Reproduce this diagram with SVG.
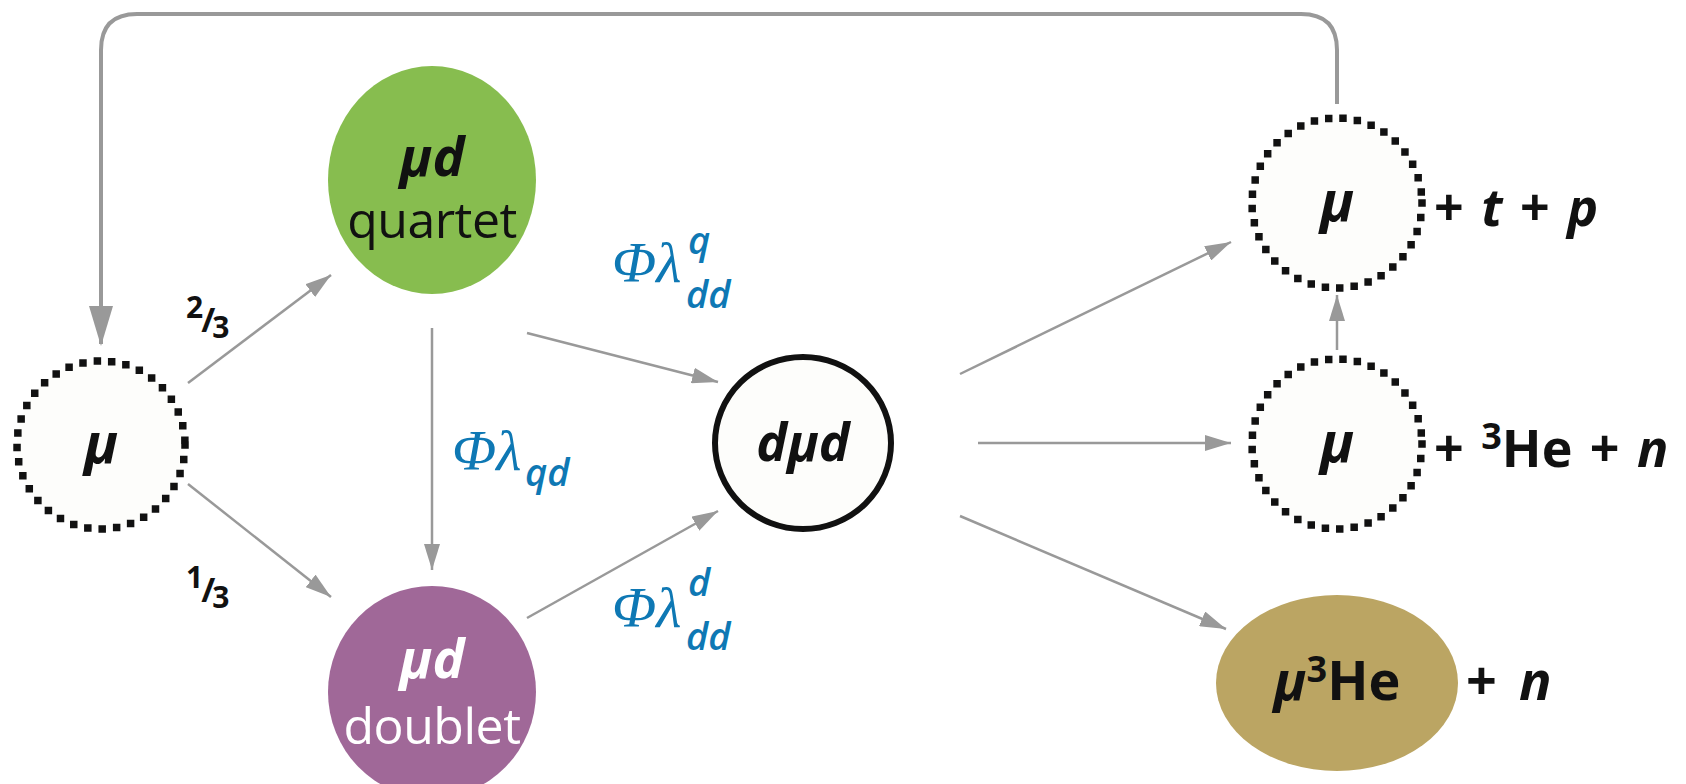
<svg xmlns="http://www.w3.org/2000/svg" width="1686" height="784" viewBox="0 0 1686 784">
<defs>
<style>
.bg{fill:#ffffff}
.dot{fill:#fdfdfb;stroke:#111;stroke-width:7.5;stroke-dasharray:0 14.5;stroke-linecap:square}
.ln{stroke:#999;stroke-width:2.5;fill:none}
.loop{stroke:#999;stroke-width:4;fill:none}
.b{font-family:'Open Sans','Liberation Sans',sans-serif;font-weight:700;fill:#111}
.bi{font-family:'Open Sans','Liberation Sans',sans-serif;font-weight:700;font-style:italic;fill:#111}
.r{font-family:'Open Sans','Liberation Sans',sans-serif;font-weight:400}
.phi{font-family:'Liberation Serif','DejaVu Serif',serif;font-style:italic;fill:#0e78b4}
.sub{font-family:'Open Sans','Liberation Sans',sans-serif;font-style:italic;font-weight:600;fill:#0e78b4}
</style>
<marker id="ah" markerUnits="userSpaceOnUse" markerWidth="28" markerHeight="16" refX="26" refY="8" orient="auto">
<path d="M0,0 L26,8 L0,16 Z" fill="#999"/>
</marker>
<marker id="ahL" markerUnits="userSpaceOnUse" markerWidth="24" markerHeight="40" refX="12" refY="38" orient="0">
<path d="M0,0 L24,0 L12,40 Z" fill="#999"/>
</marker>
</defs>
<rect class="bg" x="0" y="0" width="1686" height="784"/>
<g id="connectors">
<path class="loop" d="M1337,104 V50 Q1337,14 1301,14 H137 Q101,14 101,50 V344" marker-end="url(#ahL)"/>
<line class="ln" x1="188" y1="383" x2="331" y2="275" marker-end="url(#ah)"/>
<line class="ln" x1="188" y1="484" x2="331" y2="597" marker-end="url(#ah)"/>
<line class="ln" x1="432" y1="328" x2="432" y2="570" marker-end="url(#ah)"/>
<line class="ln" x1="527" y1="333" x2="718" y2="382" marker-end="url(#ah)"/>
<line class="ln" x1="527" y1="618" x2="718" y2="511" marker-end="url(#ah)"/>
<line class="ln" x1="960" y1="374" x2="1231" y2="242" marker-end="url(#ah)"/>
<line class="ln" x1="978" y1="443" x2="1231" y2="443" marker-end="url(#ah)"/>
<line class="ln" x1="960" y1="516" x2="1226" y2="629" marker-end="url(#ah)"/>
<line class="ln" x1="1337" y1="350" x2="1337" y2="295" marker-end="url(#ah)"/>
</g>
<g id="mu-left">
<circle class="dot" cx="101" cy="445" r="84"/>
<text class="bi" x="101" y="463" font-size="56" text-anchor="middle">μ</text>
</g>
<g id="mud-quartet">
<ellipse cx="432" cy="180" rx="104" ry="114" fill="#87bd4f"/>
<text class="bi" x="432" y="176" font-size="54" text-anchor="middle">μd</text>
<text class="r" x="432" y="238" font-size="50" text-anchor="middle" fill="#111" letter-spacing="-0.5">quartet</text>
</g>
<g id="mud-doublet">
<ellipse cx="432" cy="692" rx="104" ry="106" fill="#a06898"/>
<text class="bi" x="432" y="678" font-size="54" text-anchor="middle" style="fill:#fff">μd</text>
<text class="r" x="432" y="744" font-size="50" text-anchor="middle" fill="#ffffff" letter-spacing="-0.5">doublet</text>
</g>
<g id="dmud">
<ellipse cx="803" cy="443" rx="88" ry="86" fill="#fdfdfb" stroke="#111" stroke-width="6"/>
<text class="bi" x="803" y="461" font-size="52" text-anchor="middle">dμd</text>
</g>
<g id="mu-top">
<circle class="dot" cx="1337" cy="203" r="85"/>
<text class="bi" x="1337" y="221" font-size="56" text-anchor="middle">μ</text>
</g>
<text class="bi" x="1434" y="226" font-size="52" word-spacing="4"><tspan font-style="normal">+</tspan> t <tspan font-style="normal">+</tspan> p</text>
<g id="mu-mid">
<circle class="dot" cx="1337" cy="444" r="85"/>
<text class="bi" x="1337" y="462" font-size="56" text-anchor="middle">μ</text>
</g>
<text class="b" x="1434" y="467" font-size="52" word-spacing="4">+ <tspan dy="-18" font-size="36">3</tspan><tspan dy="18">He + </tspan><tspan font-style="italic">n</tspan></text>
<g id="mu3he">
<ellipse cx="1337" cy="683" rx="121" ry="88" fill="#bba563"/>
<text class="b" x="1337" y="700" font-size="54" text-anchor="middle"><tspan font-style="italic">μ</tspan><tspan dy="-18" font-size="36">3</tspan><tspan dy="18">He</tspan></text>
</g>
<text class="b" x="1466" y="700" font-size="54" word-spacing="8">+ <tspan font-style="italic">n</tspan></text>
<g id="labels">
<text class="b" x="186" y="318" font-size="30">2<tspan dy="14" font-size="34" dx="-2">/</tspan><tspan dy="6" font-size="30" dx="-3">3</tspan></text>
<text class="b" x="186" y="588" font-size="30">1<tspan dy="14" font-size="34" dx="-2">/</tspan><tspan dy="6" font-size="30" dx="-3">3</tspan></text>
<text class="phi" x="452" y="470" font-size="58">Φλ</text>
<text class="sub" x="525" y="486" font-size="38">qd</text>
<text class="phi" x="612" y="282" font-size="58">Φλ</text>
<text class="sub" x="688" y="254" font-size="38">q</text>
<text class="sub" x="686" y="308" font-size="38">dd</text>
<text class="phi" x="612" y="627" font-size="58">Φλ</text>
<text class="sub" x="688" y="596" font-size="38">d</text>
<text class="sub" x="686" y="650" font-size="38">dd</text>
</g>
</svg>
